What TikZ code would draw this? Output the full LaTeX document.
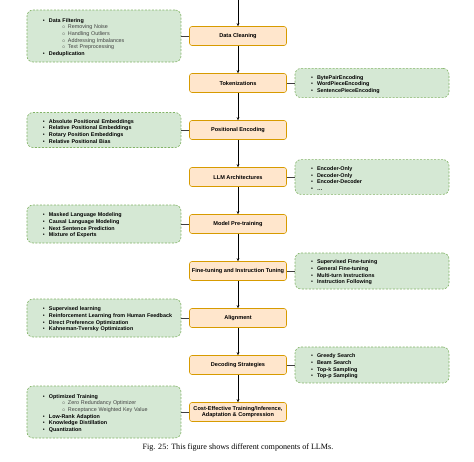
\documentclass[tikz,border=0pt]{standalone}
\usepackage{fontspec}
\setmainfont{Liberation Serif}
\setsansfont{Liberation Sans}
\usepackage{tikz}
\usetikzlibrary{shapes.geometric, positioning, arrows.meta}
\usepackage{xcolor}
\definecolor{stagefill}{HTML}{FFE6CC}
\definecolor{stagedraw}{HTML}{D79B00}
\definecolor{notefill}{HTML}{D5E8D4}
\definecolor{notedraw}{HTML}{82B366}
\newcommand{\topitem}[1]{\par\hspace*{12pt}\makebox[6pt][l]{\textbullet}\textbf{#1}}
\newcommand{\lowitem}[1]{\par\hspace*{31pt}\makebox[6pt][l]{\textcolor{darkgray}{$\scriptstyle\circ$}}\textcolor{darkgray}{#1}}

\begin{document}
\begin{tikzpicture}[node distance=47pt, auto, font=\sffamily]

% Define styles
\tikzstyle{stage} = [rectangle, draw=stagedraw, fill=stagefill, line width=0.6pt, rounded corners=2.5pt, align=center, minimum width=97pt, minimum height=19pt, inner sep=1pt, font=\sffamily\bfseries\fontsize{5.6}{6.6}\selectfont]
\tikzstyle{note} = [rectangle, draw=notedraw, fill=notefill, dash pattern=on 2pt off 1.5pt, line width=0.6pt, rounded corners=6pt, text width=146pt, align=left, inner xsep=4pt, inner ysep=4pt, font=\sffamily\fontsize{5.4}{6.7}\selectfont]
\tikzstyle{arrow} = [line width=0.5pt, -{Stealth[length=3pt, width=2.6pt]}]
\tikzstyle{link} = [line width=0.5pt, draw=black!75]

\useasboundingbox (-238pt,36pt) rectangle (236pt,-425pt);

% Pipeline stages
\node [stage] (clean) {Data Cleaning};
\node [stage, below of=clean] (token) {Tokenizations};
\node [stage, below of=token] (posenc) {Positional Encoding};
\node [stage, below of=posenc] (arch) {LLM Architectures};
\node [stage, below of=arch] (pretrain) {Model Pre-training};
\node [stage, below of=pretrain] (finetune) {Fine-tuning and Instruction Tuning};
\node [stage, below of=finetune] (alignment) {Alignment};
\node [stage, below of=alignment] (decoding) {Decoding Strategies};
\node [stage, below of=decoding] (costeff) {Cost-Effective Training/Inference,\\Adaptation \& Compression};

% Notes on the left
\node [note, left of=clean, node distance=134pt, minimum height=52pt] (cleannote) {
  \topitem{Data Filtering}
  \lowitem{Removing Noise}
  \lowitem{Handling Outliers}
  \lowitem{Addressing Imbalances}
  \lowitem{Text Preprocessing}
  \topitem{Deduplication}};
\node [note, left of=posenc, node distance=134pt, minimum height=35pt] (posencnote) {
  \topitem{Absolute Positional Embeddings}
  \topitem{Relative Positional Embeddings}
  \topitem{Rotary Position Embeddings}
  \topitem{Relative Positional Bias}};
\node [note, left of=pretrain, node distance=134pt, minimum height=38pt] (pretrainnote) {
  \topitem{Masked Language Modeling}
  \topitem{Causal Language Modeling}
  \topitem{Next Sentence Prediction}
  \topitem{Mixture of Experts}};
\node [note, left of=alignment, node distance=134pt, minimum height=38pt] (alignmentnote) {
  \topitem{Supervised learning}
  \topitem{Reinforcement Learning from Human Feedback}
  \topitem{Direct Preference Optimization}
  \topitem{Kahneman-Tversky Optimization}};
\node [note, left of=costeff, node distance=134pt, minimum height=52pt] (costeffnote) {
  \topitem{Optimized Training}
  \lowitem{Zero Redundancy Optimizer}
  \lowitem{Receptance Weighted Key Value}
  \topitem{Low-Rank Adaption}
  \topitem{Knowledge Distillation}
  \topitem{Quantization}};

% Notes on the right
\node [note, right of=token, node distance=134pt, minimum height=27pt] (tokennote) {
  \topitem{BytePairEncoding}
  \topitem{WordPieceEncoding}
  \topitem{SentencePieceEncoding}};
\node [note, right of=arch, node distance=134pt, minimum height=30pt] (archnote) {
  \topitem{Encoder-Only}
  \topitem{Decoder-Only}
  \topitem{Encoder-Decoder}
  \topitem{\ldots}};
\node [note, right of=finetune, node distance=134pt, minimum height=36pt] (finetunenote) {
  \topitem{Supervised Fine-tuning}
  \topitem{General Fine-tuning}
  \topitem{Multi-turn Instructions}
  \topitem{Instruction Following}};
\node [note, right of=decoding, node distance=134pt, minimum height=35pt] (decodingnote) {
  \topitem{Greedy Search}
  \topitem{Beam Search}
  \topitem{Top-k Sampling}
  \topitem{Top-p Sampling}};

% Arrows
\coordinate [above of=clean, node distance=36pt] (entry);
\draw [arrow] (entry) -- (clean);
\draw [arrow] (clean) -- (token);
\draw [arrow] (token) -- (posenc);
\draw [arrow] (posenc) -- (arch);
\draw [arrow] (arch) -- (pretrain);
\draw [arrow] (pretrain) -- (finetune);
\draw [arrow] (finetune) -- (alignment);
\draw [arrow] (alignment) -- (decoding);
\draw [arrow] (decoding) -- (costeff);

% Side links
\draw [link] (cleannote) -- (clean);
\draw [link] (posencnote) -- (posenc);
\draw [link] (pretrainnote) -- (pretrain);
\draw [link] (alignmentnote) -- (alignment);
\draw [link] (costeffnote) -- (costeff);
\draw [link] (token) -- (tokennote);
\draw [link] (arch) -- (archnote);
\draw [link] (finetune) -- (finetunenote);
\draw [link] (decoding) -- (decodingnote);

% Caption
\node [below of=costeff, node distance=36pt, font=\rmfamily\fontsize{8.1}{9.5}\selectfont] (caption) {Fig. 25: This figure shows different components of LLMs.};

\end{tikzpicture}
\end{document}
